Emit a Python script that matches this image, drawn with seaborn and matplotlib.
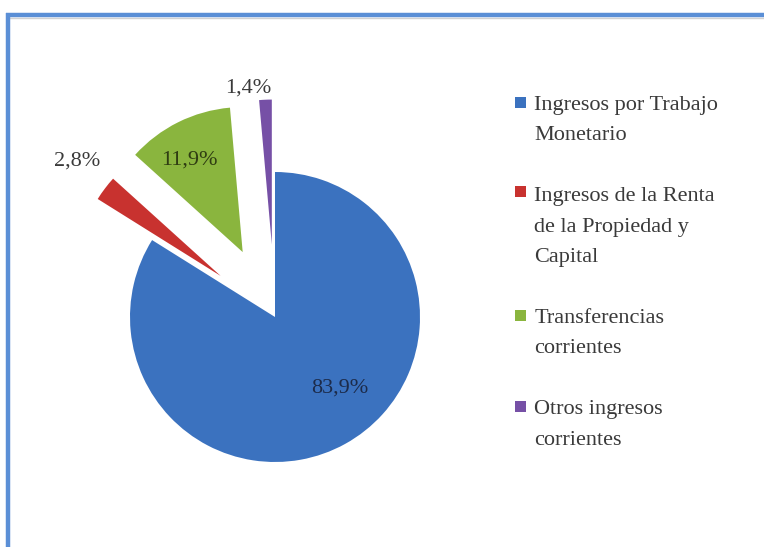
import matplotlib
matplotlib.use("Agg")
import matplotlib.pyplot as plt
import seaborn as sns
import numpy as np
from matplotlib.patches import Rectangle
from matplotlib.lines import Line2D
from matplotlib.legend_handler import HandlerPatch

# ---- data ----
categories = [
    "Ingresos por Trabajo\nMonetario",
    "Ingresos de la Renta\nde la Propiedad y\nCapital",
    "Transferencias\ncorrientes",
    "Otros ingresos\ncorrientes",
]
values = [83.9, 2.8, 11.9, 1.4]
value_labels = ["83,9%", "2,8%", "11,9%", "1,4%"]

# ---- style ----
sns.set_theme(style="white")
plt.rcParams["font.family"] = ["Liberation Serif", "DejaVu Serif"]
colors = ["#3b72bf", "#c8322f", "#8ab53e", "#7650a6"]
explode = [0.0, 0.47, 0.5, 0.5]
label_dist = [0.66, 1.27, 0.73, 1.095]
label_rot = [13.5, -1.5, 3.5, 6.0]  # degrees, fine placement around each wedge
label_colors = ["#1c2b4a", "#3a3a3a", "#2f3d12", "#3a3a3a"]

W, H = 764, 547
fig = plt.figure(figsize=(W / 100, H / 100), dpi=100)
fig.patch.set_facecolor("white")

R = 145.0
cx, cy = 275.0, 317.0
ax = fig.add_axes([0, 0, 1, 1])

wedges, _ = ax.pie(
    values,
    colors=colors,
    explode=explode,
    startangle=90,
    counterclock=False,
    radius=1.0,
    center=(0, 0),
    frame=True,
    wedgeprops=dict(linewidth=0),
)
ax.set_xlim(-cx / R, (W - cx) / R)
ax.set_ylim(-(H - cy) / R, cy / R)
ax.axis("off")

for w, txt, d, rot, c in zip(wedges, value_labels, label_dist, label_rot, label_colors):
    ang = np.deg2rad((w.theta1 + w.theta2) / 2.0 + rot)
    x0, y0 = w.center
    ax.text(x0 + d * np.cos(ang), y0 + d * np.sin(ang), txt,
            ha="center", va="center", fontsize=16, color=c)

# ---- legend ----
nlines = {}
handles = []
for col, lab in zip(colors, categories):
    p = Rectangle((0, 0), 1, 1, facecolor=col, edgecolor="none")
    nlines[id(p)] = lab.count("\n")
    handles.append(p)

LS = 1.8

def make_square(legend, orig_handle, xdescent, ydescent, width, height, fontsize):
    s = 0.5 * fontsize
    n = nlines[id(orig_handle)]
    line_h = 1.56 * fontsize
    y = -ydescent + (height - s) / 2.0 + n * line_h / 2.0
    return Rectangle((-xdescent + (width - s) / 2.0, y), s, s)

hmap = {h: HandlerPatch(patch_func=make_square) for h in handles}
leg = fig.legend(
    handles, categories,
    loc="upper left",
    bbox_to_anchor=(513 / W, 1 - 96 / H),
    frameon=False,
    fontsize=16,
    handler_map=hmap,
    handlelength=0.65,
    handleheight=0.6,
    handletextpad=0.3,
    labelspacing=1.9,
    borderpad=0,
    borderaxespad=0,
)
for t in leg.get_texts():
    t.set_color("#3a3a3a")
    t.set_linespacing(LS)

# ---- frame borders ----
fig.add_artist(Line2D([7.5 / W, 1], [1 - 17.5 / H, 1 - 17.5 / H], transform=fig.transFigure,
                      color="#d2d2d2", linewidth=1.0))
fig.add_artist(Line2D([5.5 / W, 1], [1 - 14.5 / H, 1 - 14.5 / H], transform=fig.transFigure,
                      color="#5b8fd6", linewidth=3.2, solid_capstyle="butt"))
fig.add_artist(Line2D([7.5 / W, 7.5 / W], [0, 1 - 13 / H], transform=fig.transFigure,
                      color="#5b8fd6", linewidth=3.2, solid_capstyle="butt"))

fig.savefig("out.png", dpi=100, facecolor="white")
